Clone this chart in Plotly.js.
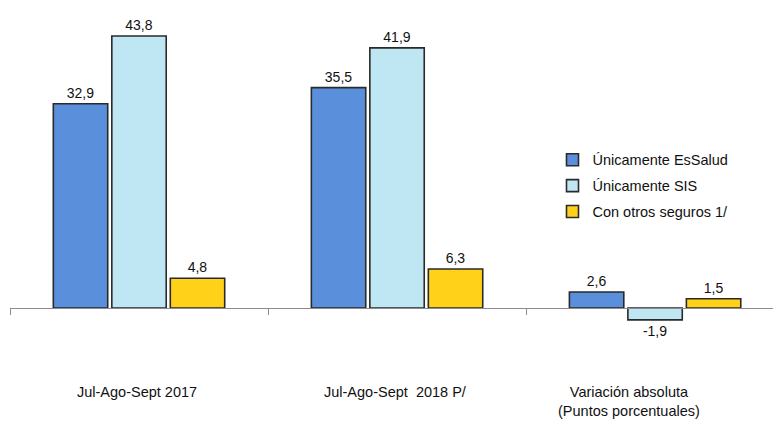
<!DOCTYPE html>
<html><head><meta charset="utf-8">
<script src="https://cdn.plot.ly/plotly-3.0.1.min.js"></script>
<style>html,body{margin:0;padding:0;background:#fff}</style>
</head><body><div id="chart" style="width:773px;height:423px"></div>
<script>
const categories = ["Jul-Ago-Sept 2017", "Jul-Ago-Sept  2018 P/", "Variación absoluta<br>(Puntos porcentuales)"];
const seriesNames = ["Únicamente EsSalud", "Únicamente SIS", "Con otros seguros 1/"];
const essalud = [32.9, 35.5, 2.6];
const sis = [43.8, 41.9, -1.9];
const otros = [4.8, 6.3, 1.5];

const FONT = "'Liberation Sans Narrow', 'Arial Narrow', 'Liberation Sans', Arial, sans-serif";
const colors = ["#5A8FDB", "#BEE6F3", "#FFD119"];
const vals = [essalud, sis, otros];
const catIdx = [0, 1, 2];

const traces = vals.map((v, i) => ({
  type: 'bar', x: catIdx, y: v, name: seriesNames[i], legendgroup: 'g' + i,
  marker: {color: colors[i], line: {color: '#2a2a2a', width: 1.6}},
  texttemplate: '%{y:.1f}', textposition: 'outside', cliponaxis: false,
  textfont: {family: FONT, size: 14, color: '#111'}
}));

const ymin = -18.5, ymax = 49.6;
const zeroPos = (0 - ymin) / (ymax - ymin);

const layout = {
  width: 773, height: 423,
  margin: {l: 10, r: 0, t: 0, b: 0},
  separators: ',.',
  barmode: 'group', bargap: 0.32, bargroupgap: 0.07,
  paper_bgcolor: '#fff', plot_bgcolor: '#fff',
  font: {family: FONT, size: 15, color: '#111'},
  showlegend: true,
  legend: {x: 0.711, y: 0.66, xanchor: 'left', yanchor: 'top', bgcolor: 'rgba(0,0,0,0)',
           font: {family: FONT, size: 14.5, color: '#111'}, tracegroupgap: 4, itemwidth: 30},
  xaxis: {type: 'linear', range: [-0.5, 2.457], anchor: 'free', position: zeroPos,
          showline: true, linecolor: '#8c8c8c', linewidth: 1,
          tickvals: [-0.5, 0.5, 1.5], ticks: 'outside', ticklen: 6, tickcolor: '#8c8c8c',
          showticklabels: false, showgrid: false, zeroline: false, fixedrange: true},
  yaxis: {range: [ymin, ymax], visible: false, showgrid: false, zeroline: false},
  annotations: categories.map((c, i) => ({
    x: i, xref: 'x', y: 0, yref: 'y', yshift: -74, yanchor: 'top', xanchor: 'center',
    xshift: i === 2 ? -26 : -2, text: c, showarrow: false,
    font: {family: FONT, size: 14.5, color: '#111'}
  }))
};

Plotly.newPlot('chart', traces, layout, {staticPlot: true});
</script></body></html>
